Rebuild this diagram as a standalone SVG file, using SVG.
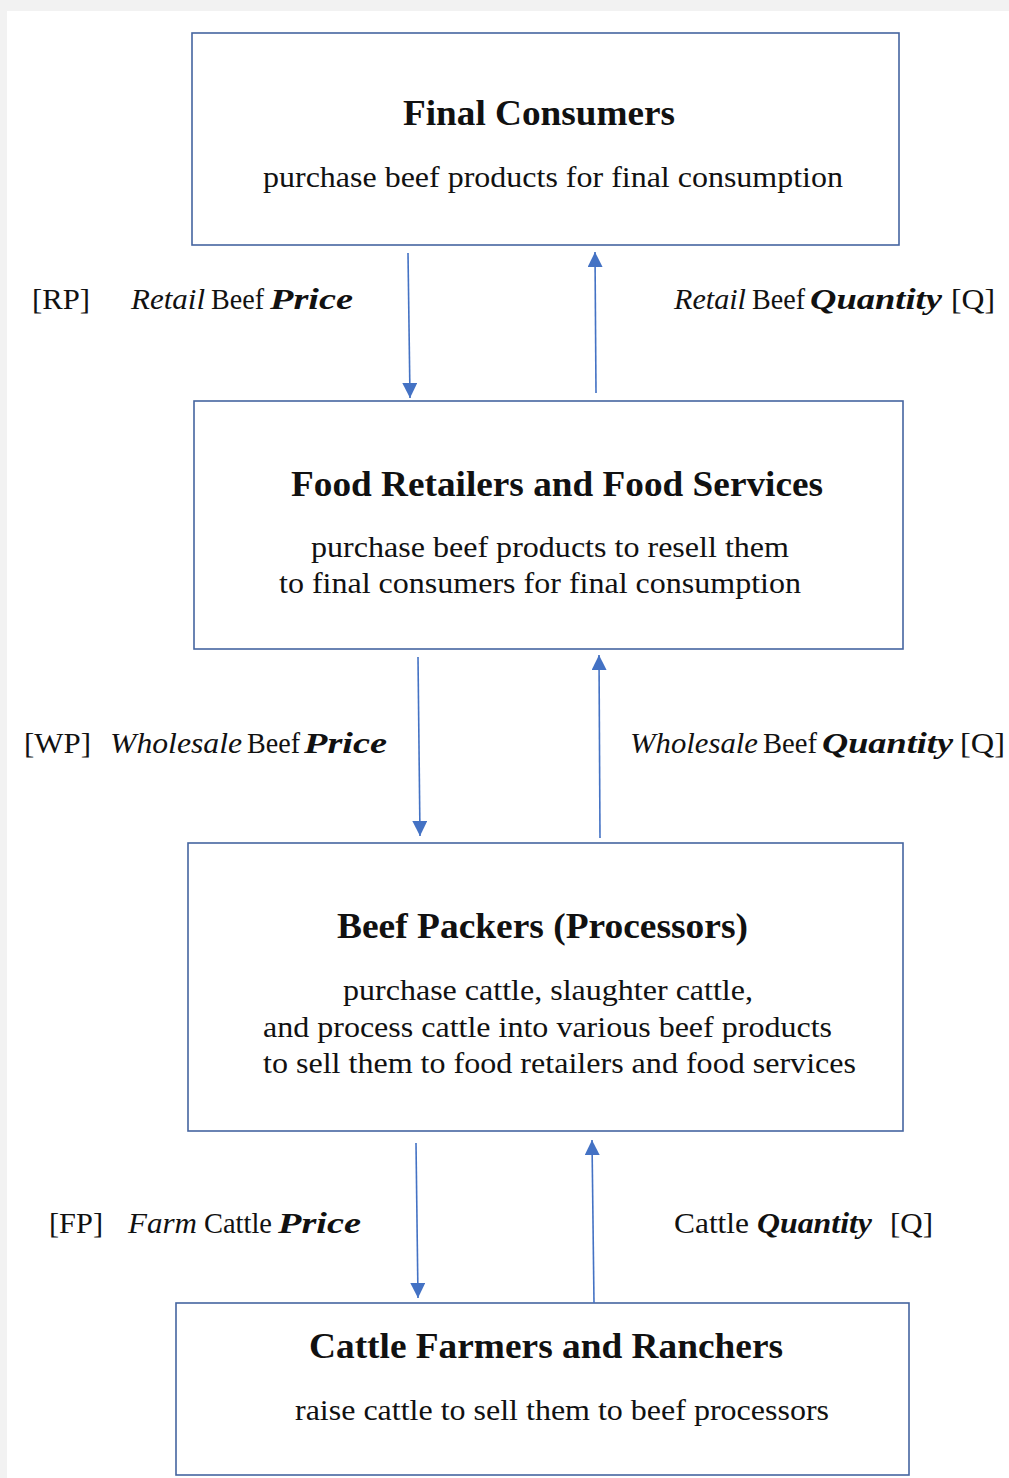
<svg xmlns="http://www.w3.org/2000/svg" width="1009" height="1478" viewBox="0 0 1009 1478">
<defs>
<style>
.box{fill:#ffffff;stroke:#4565a0;stroke-width:1.6}
.t{font-family:"Liberation Serif","Times New Roman",serif;fill:#111111}
.title{font-size:35px;font-weight:bold}
.sub{font-size:29px}
.lab{font-size:30px}
.it{font-style:italic}
.bi{font-style:italic;font-weight:bold}
.arr{stroke:#4472C4;stroke-width:1.6;fill:none;marker-end:url(#ah)}
</style>
<marker id="ah" markerUnits="userSpaceOnUse" markerWidth="15" markerHeight="15" refX="15" refY="7.5" orient="auto" viewBox="0 0 15 15">
<path d="M0,0 L15,7.5 L0,15 z" fill="#4472C4"/>
</marker>
</defs>
<rect x="0" y="0" width="1009" height="1478" fill="#f2f2f2"/>
<rect x="7" y="11" width="1002" height="1467" fill="#ffffff"/>

<g id="final-consumers">
<rect class="box" x="192" y="33" width="707" height="212"/>
<text class="t title" x="403" y="125" textLength="272" lengthAdjust="spacingAndGlyphs">Final Consumers</text>
<text class="t sub" x="263" y="187" textLength="580" lengthAdjust="spacingAndGlyphs">purchase beef products for final consumption</text>
</g>

<g id="food-retailers">
<rect class="box" x="194" y="401" width="709" height="248"/>
<text class="t title" x="291" y="496" textLength="532" lengthAdjust="spacingAndGlyphs">Food Retailers and Food Services</text>
<text class="t sub" x="311" y="557" textLength="478" lengthAdjust="spacingAndGlyphs">purchase beef products to resell them</text>
<text class="t sub" x="279" y="593" textLength="522" lengthAdjust="spacingAndGlyphs">to final consumers for final consumption</text>
</g>

<g id="beef-packers">
<rect class="box" x="188" y="843" width="715" height="288"/>
<text class="t title" x="337" y="938" textLength="411" lengthAdjust="spacingAndGlyphs">Beef Packers (Processors)</text>
<text class="t sub" x="343" y="1000" textLength="410" lengthAdjust="spacingAndGlyphs">purchase cattle, slaughter cattle,</text>
<text class="t sub" x="263" y="1037" textLength="569" lengthAdjust="spacingAndGlyphs">and process cattle into various beef products</text>
<text class="t sub" x="263" y="1073" textLength="593" lengthAdjust="spacingAndGlyphs">to sell them to food retailers and food services</text>
</g>

<g id="cattle-farmers">
<rect class="box" x="176" y="1303" width="733" height="172"/>
<text class="t title" x="309" y="1358" textLength="474" lengthAdjust="spacingAndGlyphs">Cattle Farmers and Ranchers</text>
<text class="t sub" x="295" y="1420" textLength="534" lengthAdjust="spacingAndGlyphs">raise cattle to sell them to beef processors</text>
</g>

<g id="connectors">
<line class="arr" x1="408" y1="253" x2="410" y2="398"/>
<line class="arr" x1="596" y1="393" x2="595" y2="252"/>
<line class="arr" x1="418" y1="657" x2="420" y2="836"/>
<line class="arr" x1="600" y1="838" x2="599" y2="655"/>
<line class="arr" x1="416" y1="1143" x2="418" y2="1298"/>
<line class="arr" x1="594" y1="1303" x2="592" y2="1140"/>
</g>

<g id="labels">
<text class="t lab" x="32" y="309" textLength="58" lengthAdjust="spacingAndGlyphs">[RP]</text>
<text class="t lab it" x="131" y="309" textLength="74" lengthAdjust="spacingAndGlyphs">Retail</text>
<text class="t lab" x="211" y="309" textLength="53" lengthAdjust="spacingAndGlyphs">Beef</text>
<text class="t lab bi" x="270" y="309" textLength="83" lengthAdjust="spacingAndGlyphs">Price</text>

<text class="t lab it" x="674" y="309" textLength="72" lengthAdjust="spacingAndGlyphs">Retail</text>
<text class="t lab" x="752" y="309" textLength="53" lengthAdjust="spacingAndGlyphs">Beef</text>
<text class="t lab bi" x="810" y="309" textLength="132" lengthAdjust="spacingAndGlyphs">Quantity</text>
<text class="t lab" x="951" y="309" textLength="44" lengthAdjust="spacingAndGlyphs">[Q]</text>

<text class="t lab" x="24" y="753" textLength="67" lengthAdjust="spacingAndGlyphs">[WP]</text>
<text class="t lab it" x="110" y="753" textLength="132" lengthAdjust="spacingAndGlyphs">Wholesale</text>
<text class="t lab" x="247" y="753" textLength="53" lengthAdjust="spacingAndGlyphs">Beef</text>
<text class="t lab bi" x="304" y="753" textLength="83" lengthAdjust="spacingAndGlyphs">Price</text>

<text class="t lab it" x="630" y="753" textLength="128" lengthAdjust="spacingAndGlyphs">Wholesale</text>
<text class="t lab" x="763" y="753" textLength="54" lengthAdjust="spacingAndGlyphs">Beef</text>
<text class="t lab bi" x="822" y="753" textLength="131" lengthAdjust="spacingAndGlyphs">Quantity</text>
<text class="t lab" x="960" y="753" textLength="45" lengthAdjust="spacingAndGlyphs">[Q]</text>

<text class="t lab" x="49" y="1233" textLength="54" lengthAdjust="spacingAndGlyphs">[FP]</text>
<text class="t lab it" x="128" y="1233" textLength="69" lengthAdjust="spacingAndGlyphs">Farm</text>
<text class="t lab" x="204" y="1233" textLength="68" lengthAdjust="spacingAndGlyphs">Cattle</text>
<text class="t lab bi" x="278" y="1233" textLength="83" lengthAdjust="spacingAndGlyphs">Price</text>

<text class="t lab" x="674" y="1233" textLength="75" lengthAdjust="spacingAndGlyphs">Cattle</text>
<text class="t lab bi" x="757" y="1233" textLength="115" lengthAdjust="spacingAndGlyphs">Quantity</text>
<text class="t lab" x="890" y="1233" textLength="43" lengthAdjust="spacingAndGlyphs">[Q]</text>
</g>
</svg>
